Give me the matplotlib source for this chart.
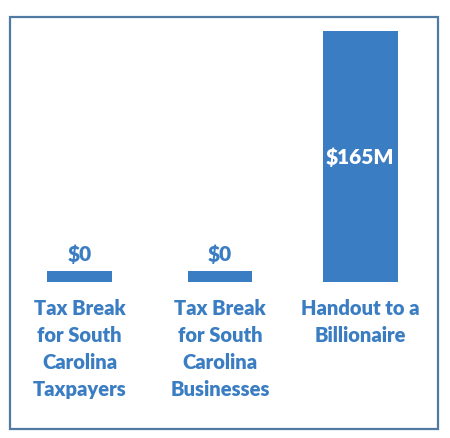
import matplotlib.pyplot as plt
from matplotlib.patches import Rectangle

# values in $M; the two zero bars are drawn as a thin placeholder strip
categories = [
    "Tax Break\nfor South\nCarolina\nTaxpayers",
    "Tax Break\nfor South\nCarolina\nBusinesses",
    "Handout to a\nBillionaire",
]
values = [0, 0, 165]
value_labels = ["$0", "$0", "$165M"]

BLUE = "#3b7dc2"
FRAME = "#4f7aa3"
ZERO_STRIP = 7.2
bar_widths = [0.46, 0.45, 0.53]

plt.rcParams["font.family"] = ["Lato", "DejaVu Sans"]

fig = plt.figure(figsize=(4.5, 4.39), dpi=100)
W, H = 450, 439

# outer frame
fig.patches.append(Rectangle((10 / W, 1 - 430 / H), 428 / W, 412 / H,
                             transform=fig.transFigure, fill=False,
                             edgecolor=FRAME, linewidth=1.6))

ax = fig.add_axes([9.5 / W, 1 - 283 / H, 421 / W, 251 / H])
x = list(range(len(values)))
heights = [v if v > 0 else ZERO_STRIP for v in values]
ax.bar(x, heights, width=bar_widths, color=BLUE)
ax.set_xlim(-0.5, 2.5)
ax.set_ylim(0, max(values))

for xi, v, h, lab in zip(x, values, heights, value_labels):
    if v > 0:
        ax.text(xi, h * 0.50, lab, ha="center", va="center", color="white",
                fontsize=15, fontweight="heavy")
    else:
        ax.annotate(lab, (xi, h), xytext=(0, 5.5), textcoords="offset points",
                    ha="center", va="bottom", color=BLUE,
                    fontsize=15, fontweight="heavy")

ax.set_xticks(x, categories)
ax.tick_params(axis="x", length=0, pad=11.5, labelsize=14.5, labelcolor=BLUE)
for t in ax.get_xticklabels():
    t.set_fontweight("heavy")
    t.set_linespacing(1.5)
    t.set_multialignment("center")
ax.set_yticks([])
for s in ax.spines.values():
    s.set_visible(False)

fig.savefig("out.png", dpi=100)
